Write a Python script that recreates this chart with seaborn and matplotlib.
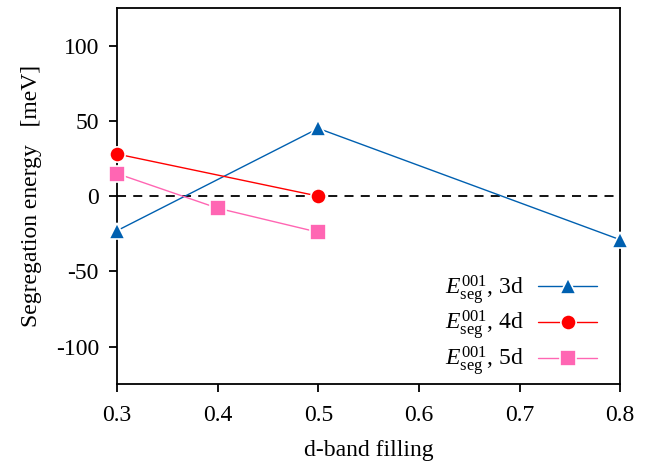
import matplotlib
matplotlib.use("Agg")
import matplotlib.pyplot as plt
import seaborn as sns
import pandas as pd

x_3d = [0.3, 0.5, 0.8]
y_3d = [-23, 45, -29]
x_4d = [0.3, 0.5]
y_4d = [28, 0]
x_5d = [0.3, 0.4, 0.5]
y_5d = [15, -8, -24]

labels = [r"$E_{\rm seg}^{001}$, 3d", r"$E_{\rm seg}^{001}$, 4d", r"$E_{\rm seg}^{001}$, 5d"]
colors = ["#0060b0", "#ff0000", "#ff66b3"]
markers = ["^", "o", "s"]
xticks = [0.3, 0.4, 0.5, 0.6, 0.7, 0.8]
yticks = [-100, -50, 0, 50, 100]

sns.set_style("ticks")
plt.rcParams["font.family"] = ["Liberation Serif", "DejaVu Serif"]
plt.rcParams["mathtext.fontset"] = "custom"
plt.rcParams["mathtext.rm"] = "Liberation Serif"
plt.rcParams["mathtext.it"] = "Liberation Serif:italic"
plt.rcParams["text.color"] = "black"
plt.rcParams["axes.labelcolor"] = "black"
plt.rcParams["xtick.color"] = "black"
plt.rcParams["ytick.color"] = "black"
plt.rcParams["axes.edgecolor"] = "black"

frames = []
for xs, ys, lab in [(x_3d, y_3d, labels[0]), (x_4d, y_4d, labels[1]), (x_5d, y_5d, labels[2])]:
    frames.append(pd.DataFrame({"x": xs, "y": ys, "series": lab}))
df = pd.concat(frames, ignore_index=True)

fig = plt.figure(figsize=(6.57, 4.72), dpi=100)
ax = fig.add_axes([0.178, 0.186, 0.766, 0.797])

ax.axhline(0, color="black", lw=1.3, ls=(0, (5, 4)), zorder=1)

for lab, col, mk in zip(labels, colors, markers):
    sub = df[df["series"] == lab]
    sns.lineplot(data=sub, x="x", y="y", ax=ax, color=col, marker=mk, markersize=11,
                 markeredgecolor="white", markeredgewidth=1.2, linewidth=1.0,
                 label=lab, clip_on=False, zorder=3)

ax.set_xlim(0.3, 0.8)
ax.set_ylim(-125, 125)
ax.set_xticks(xticks)
ax.set_xticklabels([f"{v:.1f}" for v in xticks])
ax.set_yticks(yticks)
ax.set_yticklabels([str(v) for v in yticks])
ax.tick_params(direction="out", length=6, width=1.3, labelsize=17)
ax.tick_params(axis="x", pad=9)
ax.tick_params(axis="y", pad=7)
for s in ax.spines.values():
    s.set_linewidth(1.3)
ax.set_xlabel("d-band filling", fontsize=17, labelpad=10)
ax.set_ylabel("Segregation energy   [meV]", fontsize=17, labelpad=10)

leg = ax.legend(loc="lower right", bbox_to_anchor=(0.973, -0.008), frameon=False,
                markerfirst=False, fontsize=17, handlelength=2.5, labelspacing=0.1,
                borderaxespad=0.0, handletextpad=0.6)

fig.savefig("out.png", dpi=100)
